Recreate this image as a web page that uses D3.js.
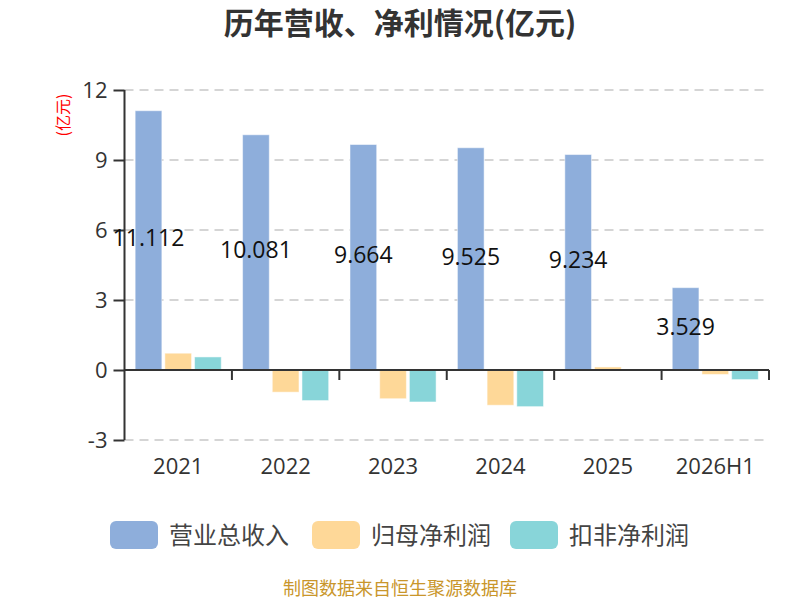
<!DOCTYPE html>
<html><head><meta charset="utf-8">
<script src="https://cdn.jsdelivr.net/npm/d3@7/dist/d3.min.js"></script>
<style>html,body{margin:0;padding:0;background:#fff;}svg{display:block;font-family:"Noto Sans CJK SC","Noto Sans",sans-serif;}</style>
</head><body>
<svg id="c" width="800" height="600"></svg>
<script>
const categories = ["2021","2022","2023","2024","2025","2026H1"];
const revenue = [11.112, 10.081, 9.664, 9.525, 9.234, 3.529];
const netProfit = [0.72, -0.95, -1.23, -1.51, 0.13, -0.19];
const deductedProfit = [0.56, -1.31, -1.37, -1.57, 0.04, -0.41];
const seriesNames = ["营业总收入","归母净利润","扣非净利润"];
const yTicks = [-3, 0, 3, 6, 9, 12];
const colors = ["#8eaedb","#fed898","#88d5d9"];

(function(){
const svg = d3.select("#c");
const numFont = "'Open Sans','Noto Sans CJK SC',sans-serif";
const pL = 124.5, pR = 769, pT = 90, pB = 440;
const x = d3.scaleBand().domain(categories).range([pL, pR]);
const y = d3.scaleLinear().domain([-3, 12]).range([pB, pT]);
const bw = 26.7, gap = 3;
const series = [revenue, netProfit, deductedProfit];

svg.append("text").attr("x", 400).attr("y", 34).attr("text-anchor","middle")
  .attr("font-size", 30).attr("font-weight","bold").attr("fill","#333").text("历年营收、净利情况(亿元)");

svg.append("g").selectAll("line").data(yTicks.filter(t => t !== 0)).join("line")
  .attr("x1", pL).attr("x2", pR).attr("y1", d => y(d)).attr("y2", d => y(d))
  .attr("stroke", "#c8c8c8").attr("stroke-width", 1.5).attr("stroke-dasharray","9,6");

const groupW = bw*3 + gap*2;
series.forEach((vals, si) => {
  svg.append("g").selectAll("rect").data(vals).join("rect")
    .attr("x", (d,i) => x(categories[i]) + (x.bandwidth()-groupW)/2 + si*(bw+gap))
    .attr("y", d => y(Math.max(0,d)))
    .attr("width", bw)
    .attr("height", d => Math.abs(y(d) - y(0)))
    .attr("fill", colors[si])
    .attr("stroke", "rgba(255,255,255,0.5)").attr("stroke-width", 1);
});

const yAxis = d3.axisLeft(y).tickValues(yTicks).tickSize(11).tickPadding(6).tickFormat(d => String(d));
const gy = svg.append("g").attr("transform", `translate(${pL},0)`).call(yAxis);
gy.select(".domain").attr("stroke","#333").attr("stroke-width",2).attr("d", `M0,${pT}V${pB}`);
gy.selectAll(".tick line").attr("stroke","#333").attr("stroke-width",2);
gy.selectAll(".tick text").attr("font-size",22).attr("fill","#333").attr("font-family",numFont);

const xAxis = d3.axisBottom(x).tickSize(0).tickPadding(0).tickFormat(d => d);
const gx = svg.append("g").attr("transform", `translate(0,${y(0)})`).call(xAxis);
gx.select(".domain").attr("stroke","#333").attr("stroke-width",2).attr("d", `M${pL},0H${pR}`);
gx.selectAll(".tick text").attr("font-size",22).attr("fill","#333")
  .attr("font-family",numFont)
  .attr("y", y(-3) - y(0) + 26).attr("dy","0.35em");
svg.append("g").selectAll("line").data(categories).join("line")
  .attr("x1", d => x(d) + x.bandwidth()).attr("x2", d => x(d) + x.bandwidth())
  .attr("y1", y(0)).attr("y2", y(0) + 10).attr("stroke","#333").attr("stroke-width",2);

svg.append("g").selectAll("text").data(revenue).join("text")
  .attr("x", (d,i) => x(categories[i]) + (x.bandwidth()-groupW)/2 + bw/2)
  .attr("y", d => (y(d) + y(0))/2 - 2)
  .attr("dy","0.35em").attr("text-anchor","middle").attr("font-size",23).attr("fill","#111")
  .attr("font-family",numFont)
  .text(d => d3.format(".3f")(d));

svg.append("text").attr("transform","translate(63,115) rotate(-90)").attr("text-anchor","middle")
  .attr("dy","0.35em").attr("font-size",16).attr("fill","#ff0000").text("(亿元)");

const lx = [110, 312, 510];
seriesNames.forEach((n,i) => {
  svg.append("rect").attr("x", lx[i]).attr("y", 521).attr("width", 48).attr("height", 28).attr("rx", 6)
    .attr("fill", colors[i]);
  svg.append("text").attr("x", lx[i] + 59).attr("y", 535).attr("dy","0.36em")
    .attr("font-size", 24).attr("fill","#444").text(n);
});

svg.append("text").attr("x", 400).attr("y", 589).attr("dy","0.35em").attr("text-anchor","middle")
  .attr("font-size", 18).attr("fill","#c9962b").text("制图数据来自恒生聚源数据库");
})();
</script>
</body></html>
